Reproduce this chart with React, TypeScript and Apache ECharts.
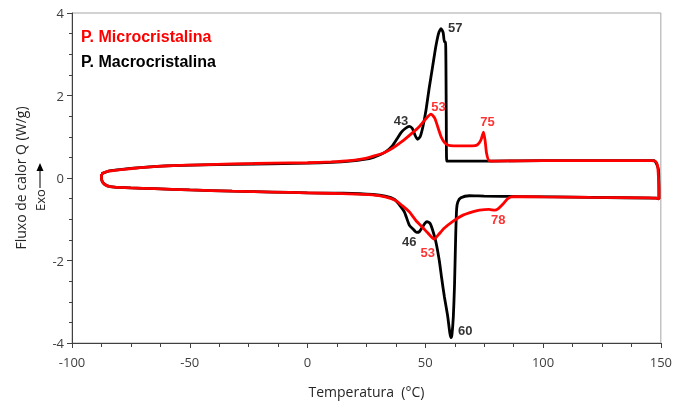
import React, { useEffect, useRef } from "react";
import * as echarts from "echarts";

// Temperature (°C) and heat flow (W/g)
const microUpper: number[][] = [
  [-87.5, 0.1], [-86, 0.14], [-84, 0.17], [-78, 0.21], [-71, 0.25], [-64, 0.28], [-57, 0.3],
  [-45, 0.32], [-32, 0.34], [-15, 0.36], [0, 0.37], [10, 0.39], [18, 0.42], [24, 0.47],
  [28, 0.53], [32, 0.6], [36, 0.72], [40, 0.88], [44, 1.07], [47.5, 1.25], [50, 1.42],
  [52.4, 1.55], [54, 1.45], [55.5, 1.2], [56.7, 1.0], [58, 0.87], [59.5, 0.8], [62, 0.78],
  [66, 0.78], [70, 0.78], [72, 0.8], [73.6, 0.92], [74.7, 1.11], [75.4, 0.9], [76, 0.6],
  [77.1, 0.42], [80, 0.41], [100, 0.42], [120, 0.42], [140, 0.42], [146, 0.42],
  [147.8, 0.4], [148.6, 0.3], [149, 0.0], [149.2, -0.3], [149.2, -0.51],
];
const microLower: number[][] = [
  [148, -0.49], [145, -0.48], [120, -0.47], [100, -0.46], [87, -0.45], [85, -0.5],
  [83, -0.63], [81, -0.74], [79.5, -0.78], [77, -0.76], [73, -0.78], [70, -0.82],
  [66, -0.9], [62, -1.04], [58, -1.22], [55.5, -1.38], [53.8, -1.48], [51, -1.33],
  [48.9, -1.2], [46, -1.03], [43.2, -0.82], [40, -0.66], [37.6, -0.55], [33, -0.46],
  [27.7, -0.41], [15, -0.38], [0, -0.36], [-15, -0.34], [-32, -0.32], [-50, -0.29],
  [-65, -0.26], [-75, -0.24], [-82, -0.22], [-85, -0.19], [-86.8, -0.12], [-87.5, 0.0],
  [-87.5, 0.1],
];
const macroUpper: number[][] = [
  [-87.5, 0.1], [-84, 0.17], [-71, 0.25], [-57, 0.3], [-32, 0.33], [0, 0.36], [10, 0.38],
  [18, 0.41], [24, 0.45], [28, 0.5], [31, 0.57], [33.3, 0.64], [36, 0.78], [38, 0.95],
  [39.7, 1.1], [41.5, 1.2], [43.2, 1.25], [44.5, 1.2], [45.7, 1.03], [46.7, 0.94],
  [47.8, 1.0], [49, 1.25], [50.3, 1.65], [51.7, 2.2], [53.1, 2.7], [54.5, 3.2],
  [55.7, 3.52], [56.7, 3.62], [57.6, 3.52], [58.1, 3.3], [58.6, 3.3], [58.9, 1.5],
  [59.1, 0.41], [65, 0.41], [77, 0.41], [100, 0.42], [147, 0.42], [149, 0.2], [149.2, -0.51],
];
const macroLower: number[][] = [
  [148, -0.49], [120, -0.47], [90, -0.45], [75, -0.44], [68.7, -0.43], [65.1, -0.48],
  [63.8, -0.58], [63.3, -0.75], [62.9, -1.4], [62.4, -2.6], [61.9, -3.36], [61.3, -3.8],
  [60.9, -3.87], [60.4, -3.75], [59.5, -3.35], [58.1, -2.88], [57, -2.45], [55.9, -1.99],
  [54.5, -1.55], [53.1, -1.26], [52, -1.1], [50.7, -1.06], [49.8, -1.1], [48.9, -1.18],
  [47.5, -1.3], [46.3, -1.32], [45, -1.25], [43.2, -1.14], [41.1, -0.82], [39, -0.65],
  [37, -0.52], [33, -0.44], [27.7, -0.4], [15, -0.37], [0, -0.36], [-15, -0.34],
  [-32, -0.32], [-50, -0.29], [-65, -0.26], [-75, -0.24], [-82, -0.22], [-85, -0.19],
  [-86.8, -0.12], [-87.5, 0.0], [-87.5, 0.1],
];

// Peak annotations: [x, y, text]
const microPeaks: (number | string)[][] = [
  [55.6, 1.73, "53"], [76.4, 1.37, "75"], [51.0, -1.81, "53"], [81.0, -1.0, "78"],
];
const macroPeaks: (number | string)[][] = [
  [62.7, 3.64, "57"], [39.7, 1.39, "43"], [43.2, -1.53, "46"], [67.0, -3.69, "60"],
];

const seriesNames = ["P. Microcristalina", "P. Macrocristalina"];
const xTicks = { min: -100, max: 150, interval: 50 };
const yTicks = { min: -4, max: 4, interval: 2 };

export default function App() {
  const ref = useRef<HTMLDivElement>(null);
  useEffect(() => {
    if (!ref.current) return;
    const chart = echarts.init(ref.current, null, { renderer: "svg" });
    const labelFont = "Liberation Sans, Arial, sans-serif";
    const axisFont = "Open Sans, Noto Sans, sans-serif";
    const peakSeries = (data: (number | string)[][], color: string) => ({
      type: "scatter",
      data: data.map((d) => ({ value: [d[0], d[1]], name: d[2] })),
      symbolSize: 0,
      z: 5,
      label: {
        show: true,
        position: "inside",
        formatter: "{b}",
        color,
        fontFamily: labelFont,
        fontWeight: "bold",
        fontSize: 13,
      },
    });
    chart.setOption({
      animation: false,
      grid: {
        left: 72, right: 13, top: 13, bottom: 62,
        show: true, borderColor: "#a6a6a6", borderWidth: 1,
      },
      xAxis: {
        type: "value",
        ...xTicks,
        name: "Temperatura  (°C)",
        nameLocation: "middle",
        nameGap: 41,
        nameTextStyle: { fontFamily: axisFont, fontSize: 14, color: "#262626", verticalAlign: "top" },
        axisLine: { show: true, onZero: false, lineStyle: { color: "#404040", width: 1 } },
        axisTick: { show: true, length: 5, lineStyle: { color: "#404040" } },
        minorTick: { show: true, splitNumber: 4, length: 4, lineStyle: { color: "#404040" } },
        splitLine: { show: false },
        axisLabel: { fontFamily: axisFont, fontSize: 13, color: "#404040", margin: 12 },
      },
      yAxis: {
        type: "value",
        ...yTicks,
        name: "Fluxo de calor Q (W/g)",
        nameLocation: "middle",
        nameGap: 45,
        nameTextStyle: { fontFamily: axisFont, fontSize: 14, color: "#262626" },
        axisLine: { show: true, onZero: false, lineStyle: { color: "#404040", width: 1 } },
        axisTick: { show: true, length: 5, lineStyle: { color: "#404040" } },
        minorTick: { show: true, splitNumber: 4, length: 3, lineStyle: { color: "#404040" } },
        splitLine: { show: false },
        axisLabel: { fontFamily: axisFont, fontSize: 13, color: "#404040", margin: 8 },
      },
      graphic: [
        {
          type: "text", left: 81, top: 28,
          style: { text: seriesNames[0], fill: "#ff0000", font: `bold 16px ${labelFont}` },
        },
        {
          type: "text", left: 81, top: 53,
          style: { text: seriesNames[1], fill: "#000000", font: `bold 16px ${labelFont}` },
        },
        {
          type: "text", x: 40, y: 200, rotation: Math.PI / 2,
          style: {
            text: "Exo", fill: "#262626", font: `13px ${axisFont}`,
            align: "center", verticalAlign: "middle",
          },
        },
        {
          type: "line",
          shape: { x1: 40, y1: 188, x2: 40, y2: 168 },
          style: { stroke: "#000", lineWidth: 1 },
        },
        {
          type: "polygon",
          shape: { points: [[40, 163], [36.5, 171], [43.5, 171]] },
          style: { fill: "#000" },
        },
      ],
      series: [
        {
          name: seriesNames[1], type: "line",
          data: [...macroUpper, ...macroLower],
          showSymbol: false, smooth: 0.2, z: 2,
          lineStyle: { color: "#000000", width: 2.8 },
        },
        {
          name: seriesNames[0], type: "line",
          data: [...microUpper, ...microLower],
          showSymbol: false, smooth: 0.2, z: 3,
          lineStyle: { color: "#ff0000", width: 2.8 },
        },
        peakSeries(microPeaks, "#ff0000"),
        peakSeries(macroPeaks, "#000000"),
      ],
    });
    return () => chart.dispose();
  }, []);
  return (
    <div
      ref={ref}
      style={{ position: "fixed", left: 0, top: 0, width: 675, height: 405 }}
    />
  );
}
